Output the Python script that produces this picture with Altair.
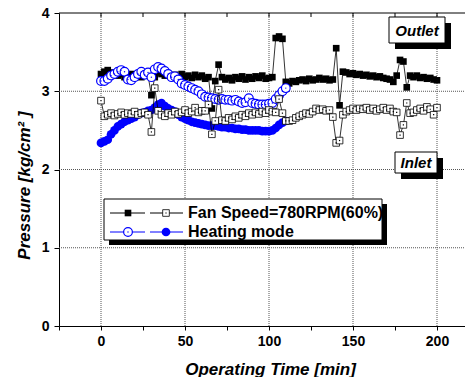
import altair as alt
import pandas as pd

# ---------------- data ----------------
fan_t = list(range(0, 201, 2))
fan_outlet = [3.22, 3.25, 3.27, 3.23, 3.24, 3.20, 3.22, 3.18, 3.20, 3.22,
              3.19, 3.21, 3.18, 3.22, 3.20, 2.95, 3.18, 3.24, 3.22, 3.20,
              3.22, 3.18, 3.21, 3.19, 3.22, 3.18, 3.20, 3.17, 3.21, 3.18,
              3.20, 3.16, 3.18, 2.78, 3.13, 3.34, 3.18, 3.15, 3.17, 3.14,
              3.18, 3.16, 3.19, 3.15, 3.18, 3.16, 3.19, 3.17, 3.20, 3.16,
              3.17, 3.18, 3.68, 3.70, 3.67, 3.12, 3.10, 3.13, 3.12, 3.14,
              3.15, 3.13, 3.16, 3.14, 3.15, 3.17, 3.15, 3.16, 3.14, 3.15,
              3.55, 2.82, 3.25, 3.24, 3.22, 3.23, 3.21, 3.22, 3.20, 3.21,
              3.19, 3.20, 3.18, 3.19, 3.17, 3.16, 3.15, 3.12, 3.20, 3.40,
              3.38, 3.05, 3.20, 3.18, 3.20, 3.17, 3.18, 3.16, 3.17, 3.15,
              3.14]
fan_inlet = [2.88, 2.68, 2.70, 2.72, 2.69, 2.71, 2.73, 2.70, 2.72, 2.71,
             2.74, 2.70, 2.72, 2.73, 2.70, 2.48, 3.04, 2.75, 2.70, 2.68,
             2.72, 2.70, 2.74, 2.71, 2.73, 2.76, 2.72, 2.74, 2.79, 2.73,
             2.75, 2.75, 2.83, 2.45, 2.62, 3.02, 2.63, 2.62, 2.66, 2.64,
             2.68, 2.66, 2.70, 2.68, 2.72, 2.70, 2.73, 2.71, 2.74, 2.72,
             2.76, 2.74, 2.73, 2.90, 2.72, 2.62, 2.62, 2.63, 2.66, 2.68,
             2.70, 2.72, 2.71, 2.74, 2.78, 2.76, 2.77, 2.75, 2.76, 2.67,
             2.34, 2.37, 2.70, 2.74, 2.76, 2.78, 2.76, 2.78, 2.77, 2.79,
             2.76, 2.78, 2.75, 2.77, 2.79, 2.76, 2.78, 2.74, 2.73, 2.44,
             2.57, 2.85, 2.72, 2.73, 2.76, 2.78, 2.75, 2.80, 2.77, 2.70,
             2.79]

heat_t = list(range(0, 111, 2))
heat_outlet = [3.13, 3.13, 3.16, 3.20, 3.22, 3.25, 3.27, 3.25, 3.15, 3.14,
               3.18, 3.22, 3.25, 3.21, 3.24, 3.18, 3.28, 3.31, 3.29, 3.26,
               3.22, 3.18, 3.19, 3.15, 3.10, 3.08, 3.06, 3.04, 3.02, 3.00,
               2.96, 2.93, 2.92, 2.91, 2.90, 2.89, 2.90, 2.89, 2.89, 2.88,
               2.89, 2.87, 2.85, 2.86, 2.91, 2.85, 2.84, 2.83, 2.83, 2.83,
               2.84, 2.85, 2.90, 2.95, 3.00, 3.04]
heat_inlet = [2.34, 2.36, 2.38, 2.45, 2.50, 2.55, 2.58, 2.61, 2.63, 2.65,
              2.67, 2.70, 2.72, 2.73, 2.75, 2.76, 2.79, 2.83, 2.85, 2.81,
              2.78, 2.76, 2.74, 2.70, 2.67, 2.65, 2.63, 2.61, 2.60, 2.59,
              2.58, 2.57, 2.56, 2.56, 2.56, 2.55, 2.54, 2.54, 2.53, 2.53,
              2.52, 2.52, 2.51, 2.51, 2.50, 2.50, 2.50, 2.50, 2.49, 2.49,
              2.49, 2.50, 2.53, 2.57, 2.60, 2.62]

x_ticks = [-25, 0, 25, 50, 75, 100, 125, 150, 175, 200]
y_ticks = [0, 0.5, 1, 1.5, 2, 2.5, 3, 3.5, 4]
x_grid = [0, 50, 100, 150, 200]
y_grid = [1, 2, 3]

legend_labels = ["Fan Speed=780RPM(60%)", "Heating mode"]

# ---------------- layout constants ----------------
W, H = 406, 313
XMIN = -25
XMAX = XMIN + W / 1.68
FONT = "Liberation Sans"
SQ = 44     # square marker size
CI = 76     # circle marker size

fan_df = pd.DataFrame({"t": fan_t, "outlet": fan_outlet, "inlet": fan_inlet})
heat_df = pd.DataFrame({"t": heat_t, "outlet": heat_outlet, "inlet": heat_inlet})

xscale = alt.Scale(domain=[XMIN, XMAX], nice=False, zero=False)
yscale = alt.Scale(domain=[0, 4], nice=False, zero=False)

x_axis = alt.Axis(values=x_ticks,
                  labelExpr="datum.value % 50 == 0 ? '' + datum.value : ''",
                  grid=False, tickSize=4, tickColor="black", domainColor="black",
                  labelFont=FONT, labelFontWeight="bold", labelFontSize=14, labelColor="black",
                  labelPadding=4, labelFlush=False,
                  title="Operating Time [min]", titleFont=FONT, titleFontStyle="italic",
                  titleFontWeight="bold", titleFontSize=17, titleColor="black",
                  titleX=211, titleY=48, titleBaseline="alphabetic", titleAlign="center")
y_axis = alt.Axis(values=y_ticks,
                  labelExpr="datum.value % 1 == 0 ? '' + datum.value : ''",
                  grid=False, tickSize=5, tickColor="black", domainColor="black",
                  labelFont=FONT, labelFontWeight="bold", labelFontSize=14, labelColor="black",
                  labelPadding=5, labelFlush=False,
                  title="Pressure  [kg/cm² ]", titleFont=FONT, titleFontStyle="italic",
                  titleFontWeight="bold", titleFontSize=17, titleColor="black",
                  titleAngle=270, titleX=-30, titleY=172, titleBaseline="alphabetic",
                  titleAlign="center")

X = lambda f="t": alt.X(f"{f}:Q", scale=xscale, axis=x_axis)
Y = lambda f: alt.Y(f"{f}:Q", scale=yscale, axis=y_axis)

grid_col = "#555555"
vgrid = alt.Chart(pd.DataFrame({"t": x_grid})).mark_rule(
    color=grid_col, strokeDash=[1, 1], strokeWidth=1).encode(
    x=X(), y=alt.datum(0, scale=yscale), y2=alt.datum(4))
hgrid = alt.Chart(pd.DataFrame({"p": y_grid})).mark_rule(
    color=grid_col, strokeDash=[1, 1], strokeWidth=1).encode(
    y=Y("p"), x=alt.value(0), x2=alt.value(W))

top_border = alt.Chart(pd.DataFrame({"p": [4]})).mark_rule(color="black", strokeWidth=1).encode(
    y=Y("p"), x=alt.value(0), x2=alt.value(W))
top_ticks = alt.Chart(pd.DataFrame({"t": x_ticks[1:]})).mark_rule(color="black", strokeWidth=1).encode(
    x=X(), y=alt.value(0), y2=alt.value(4))

# heating inlet (filled blue)
hi_line = alt.Chart(heat_df).mark_line(color="#0000ff", strokeWidth=1).encode(x=X(), y=Y("inlet"))
hi_pts = alt.Chart(heat_df).mark_circle(size=CI, color="#0000ff", opacity=1).encode(x=X(), y=Y("inlet"))

# fan outlet (filled black squares)
fo_line = alt.Chart(fan_df).mark_line(color="black", strokeWidth=0.8).encode(x=X(), y=Y("outlet"))
fo_pts = alt.Chart(fan_df).mark_square(size=SQ, color="black", opacity=1).encode(x=X(), y=Y("outlet"))

# heating outlet (open blue circles)
ho_line = alt.Chart(heat_df).mark_line(color="#0000ff", strokeWidth=1).encode(x=X(), y=Y("outlet"))
ho_pts = alt.Chart(heat_df).mark_circle(size=CI, fill="white", stroke="#0000ff", strokeWidth=1.2,
                                         opacity=1, fillOpacity=1).encode(x=X(), y=Y("outlet"))
ho_dot = alt.Chart(heat_df).mark_circle(size=2, color="#0000ff", opacity=1).encode(x=X(), y=Y("outlet"))

# fan inlet (open black squares)
fi_line = alt.Chart(fan_df).mark_line(color="black", strokeWidth=0.8).encode(x=X(), y=Y("inlet"))
fi_pts = alt.Chart(fan_df).mark_square(size=SQ, fill="white", stroke="black", strokeWidth=0.8,
                                        opacity=1, fillOpacity=1).encode(x=X(), y=Y("inlet"))
fi_dot = alt.Chart(fan_df).mark_square(size=1.5, color="black", opacity=1).encode(x=X(), y=Y("inlet"))

one = alt.Data(values=[{"a": 1}])


def box(x1, y1, x2, y2, off):
    shadow = alt.Chart(one).mark_rect(color="black").encode(
        x=alt.value(x1 + off), x2=alt.value(x2 + off), y=alt.value(y1 + off), y2=alt.value(y2 + off))
    body = alt.Chart(one).mark_rect(fill="white", stroke="black", strokeWidth=1).encode(
        x=alt.value(x1), x2=alt.value(x2), y=alt.value(y1), y2=alt.value(y2))
    return [shadow, body]


def label(txt, x, y, size, italic=True, align="center"):
    return alt.Chart(one).mark_text(font=FONT, fontSize=size, fontWeight="bold",
                                    fontStyle="italic" if italic else "normal",
                                    align=align, baseline="middle", color="black").encode(
        x=alt.value(x), y=alt.value(y), text=alt.value(txt))


annot = []
annot += box(330, 4, 386, 30, 6)
annot.append(label("Outlet", 358, 17.5, 15))
annot += box(336, 139, 378, 160, 6)
annot.append(label("Inlet", 357, 150, 15))

# legend
annot += box(45, 186, 323, 227, 5)


def seg(x1, x2, y, color):
    return alt.Chart(one).mark_rule(color=color, strokeWidth=1).encode(
        x=alt.value(x1), x2=alt.value(x2), y=alt.value(y))


r1, r2 = 200, 219
annot += [seg(51, 86, r1, "black"), seg(91, 124, r1, "black"),
          seg(51, 86, r2, "#0000ff"), seg(91, 124, r2, "#0000ff")]
annot.append(alt.Chart(one).mark_square(size=SQ, color="black", opacity=1).encode(
    x=alt.value(69), y=alt.value(r1)))
annot.append(alt.Chart(one).mark_square(size=SQ, fill="white", stroke="black", strokeWidth=0.8,
                                        opacity=1).encode(x=alt.value(107), y=alt.value(r1)))
annot.append(alt.Chart(one).mark_square(size=1.5, color="black", opacity=1).encode(
    x=alt.value(107), y=alt.value(r1)))
annot.append(alt.Chart(one).mark_circle(size=CI, fill="white", stroke="#0000ff", strokeWidth=1.2,
                                        opacity=1).encode(x=alt.value(69), y=alt.value(r2)))
annot.append(alt.Chart(one).mark_circle(size=2, color="#0000ff", opacity=1).encode(
    x=alt.value(69), y=alt.value(r2)))
annot.append(alt.Chart(one).mark_circle(size=CI, color="#0000ff", opacity=1).encode(
    x=alt.value(107), y=alt.value(r2)))
annot.append(label(legend_labels[0], 129, r1, 16, italic=False, align="left"))
annot.append(label(legend_labels[1], 129, r2, 16, italic=False, align="left"))

chart = alt.layer(
    vgrid, hgrid, top_border, top_ticks,
    hi_line, hi_pts, fo_line, fo_pts, ho_line, ho_pts, ho_dot, fi_line, fi_pts, fi_dot,
    *annot
).properties(
    width=W, height=H,
    autosize=alt.AutoSizeParams(type="none"),
    padding={"left": 51, "top": 5, "right": 0, "bottom": 51},
    background="white",
).configure_view(stroke=None)

chart.save("out.html", embed_options={"renderer": "svg", "actions": False})
